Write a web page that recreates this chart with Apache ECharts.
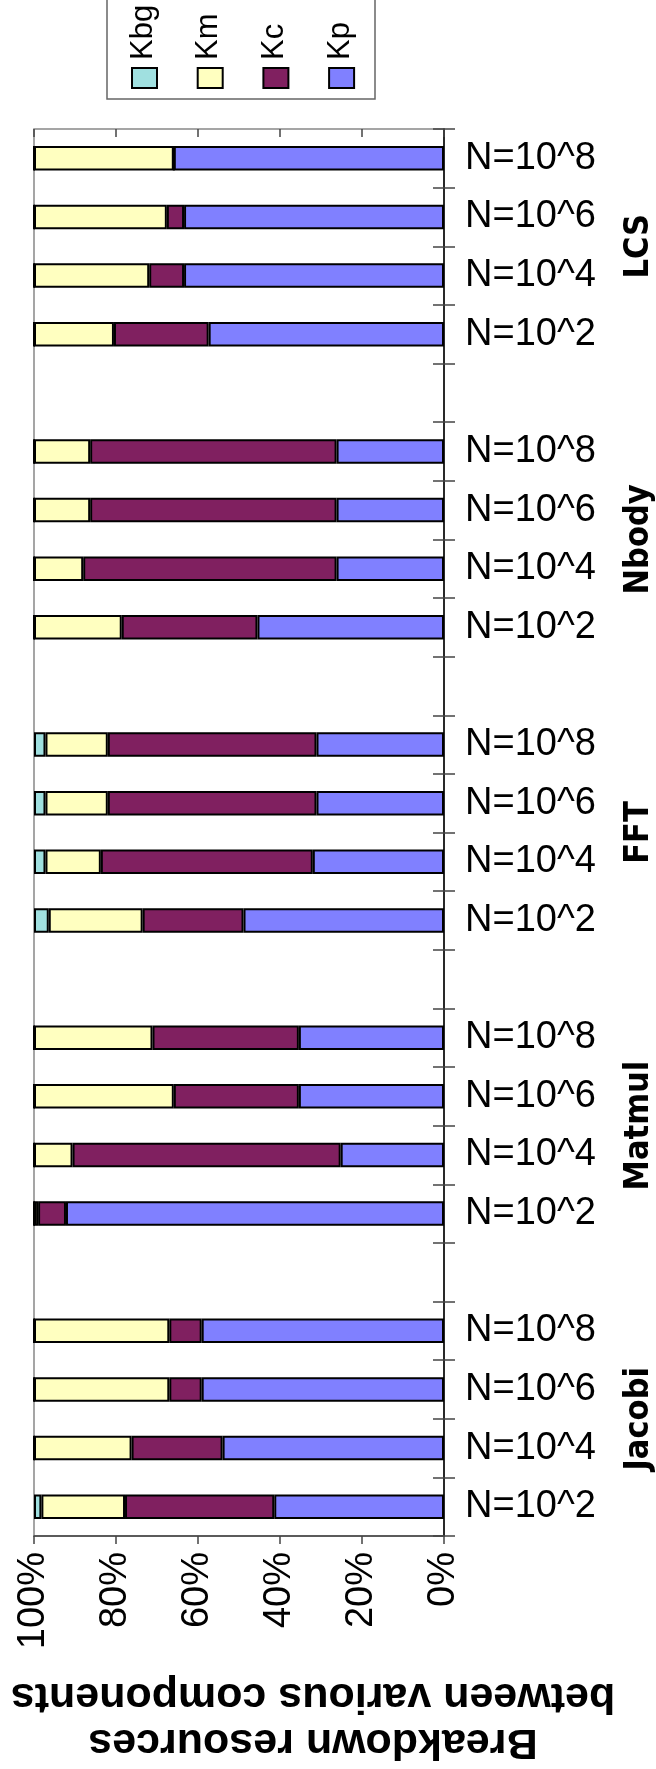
<!DOCTYPE html>
<html>
<head>
<meta charset="utf-8">
<script src="https://cdn.jsdelivr.net/npm/echarts@6/dist/echarts.min.js"></script>
<style>
  html, body { margin: 0; padding: 0; background: #fff; }
  #chart { width: 656px; height: 1769px; }
</style>
</head>
<body>
<div id="chart"></div>
<script>
// bottom (Jacobi N=10^2) to top (LCS N=10^8); '' = gap between groups
var categories = [
  "N=10^2", "N=10^4", "N=10^6", "N=10^8", "",
  "N=10^2", "N=10^4", "N=10^6", "N=10^8", "",
  "N=10^2", "N=10^4", "N=10^6", "N=10^8", "",
  "N=10^2", "N=10^4", "N=10^6", "N=10^8", "",
  "N=10^2", "N=10^4", "N=10^6", "N=10^8"
];
var groups = ["Jacobi", "Matmul", "FFT", "Nbody", "LCS"];
var groupCenters = [2, 7, 12, 17, 22];

var kp = [41.4, 54.0, 59.1, 59.1, null, 92.2, 25.2, 35.4, 35.4, null, 48.9, 32.0, 31.1, 31.1, null, 45.5, 26.2, 26.2, 26.2, null, 57.4, 63.4, 63.4, 65.9];
var kc = [36.4, 22.2, 7.9, 7.9, null, 6.8, 65.4, 30.5, 35.7, null, 24.6, 51.7, 50.9, 50.9, null, 33.1, 61.8, 60.1, 60.1, null, 23.1, 8.5, 4.2, 0];
var km = [20.4, 23.8, 33.0, 33.0, null, 1.0, 9.4, 34.1, 28.9, null, 22.9, 13.5, 15.2, 15.2, null, 21.4, 12.0, 13.7, 13.7, null, 19.5, 28.1, 32.4, 34.1];
var kbg = [1.8, 0, 0, 0, null, 0, 0, 0, 0, null, 3.6, 2.8, 2.8, 2.8, null, 0, 0, 0, 0, null, 0, 0, 0, 0];

var legendNames = ["Kbg", "Km", "Kc", "Kp"];
var colors = { Kbg: "#a0e0e0", Km: "#ffffc0", Kc: "#802060", Kp: "#8080ff" };

var font = '"Liberation Sans", Arial, sans-serif';

var chartDom = document.getElementById("chart");
var myChart = echarts.init(chartDom);
var option;

function makeSeries(name, data) {
  return {
    name: name,
    type: "bar",
    stack: "total",
    barWidth: "42%",
    data: data,
    itemStyle: {
      color: colors[name],
      borderColor: "#000",
      borderWidth: 2
    },
    animation: false
  };
}

// legend drawn by hand so the text can be turned like the source
var legendItems = [
  {
    type: "rect",
    shape: { x: 107, y: -3, width: 268, height: 102 },
    style: { fill: "#fff", stroke: "#666", lineWidth: 1.5 }
  }
];
legendNames.forEach(function (name, i) {
  var cx = 144 + i * 65.7;
  legendItems.push({
    type: "rect",
    shape: { x: cx - 12, y: 68, width: 25, height: 20 },
    style: { fill: colors[name], stroke: "#000", lineWidth: 2 }
  });
  legendItems.push({
    type: "text",
    x: cx - 1,
    y: 60,
    rotation: Math.PI / 2,
    style: {
      text: name,
      fontSize: 31,
      fontFamily: font,
      fill: "#000",
      align: "left",
      verticalAlign: "middle",
      textAlign: "left",
      textVerticalAlign: "middle"
    }
  });
});

option = {
  animation: false,
  grid: {
    left: 34,
    right: 212,
    top: 129,
    bottom: 233,
    show: true,
    borderColor: "#888",
    borderWidth: 1.5,
    outerBoundsMode: "none"
  },
  xAxis: [
    {
      type: "value",
      inverse: true,
      min: 0,
      max: 100,
      interval: 20,
      axisLine: { show: true, lineStyle: { color: "#444", width: 1.5 } },
      axisTick: { show: true, length: 8, lineStyle: { color: "#444", width: 1.5 } },
      splitLine: { show: false },
      axisLabel: {
        rotate: 90,
        margin: 16,
        fontSize: 38,
        fontFamily: font,
        color: "#000",
        formatter: "{value}%"
      }
    },
    {
      type: "value",
      inverse: true,
      min: 0,
      max: 100,
      interval: 20,
      axisLine: { show: false },
      axisTick: { show: true, inside: true, length: 8, lineStyle: { color: "#444", width: 1.5 } },
      splitLine: { show: false },
      axisLabel: { show: false }
    }
  ],
  yAxis: [
    {
      type: "category",
      position: "right",
      data: categories,
      axisLine: { show: true, lineStyle: { color: "#000", width: 1.5 } },
      axisTick: { show: true, length: 11, lineStyle: { color: "#444", width: 1.5 } },
      axisLabel: {
        margin: 21,
        fontSize: 38,
        fontFamily: font,
        color: "#000",
        interval: 0
      }
    },
    {
      type: "category",
      position: "right",
      data: categories,
      axisLine: { show: false },
      axisTick: { show: true, inside: true, length: 11, lineStyle: { color: "#444", width: 1.5 } },
      axisLabel: { show: false }
    },
    {
      type: "value",
      position: "right",
      min: 0,
      max: 24,
      axisLine: { show: false },
      axisTick: { show: false },
      splitLine: { show: false },
      axisLabel: {
        customValues: groupCenters,
        rotate: 90,
        margin: 178,
        fontSize: 34,
        fontWeight: "bold",
        fontFamily: '"Liberation Sans Narrow", "DejaVu Sans Condensed", ' + font,
        color: "#000",
        formatter: function (value) {
          return groups[groupCenters.indexOf(value)];
        }
      }
    }
  ],
  series: [
    makeSeries("Kp", kp),
    makeSeries("Kc", kc),
    makeSeries("Km", km),
    makeSeries("Kbg", kbg)
  ],
  graphic: legendItems.concat([
    {
      type: "text",
      x: 313,
      y: 1719,
      rotation: Math.PI,
      style: {
        text: "Breakdown resources\nbetween various components",
        fontSize: 43,
        fontWeight: "bold",
        fontFamily: font,
        lineHeight: 46,
        fill: "#000",
        align: "center",
        verticalAlign: "middle",
        textAlign: "center",
        textVerticalAlign: "middle"
      }
    }
  ])
};

myChart.setOption(option);
window.addEventListener("resize", function () {
  myChart.resize();
});
</script>
</body>
</html>
